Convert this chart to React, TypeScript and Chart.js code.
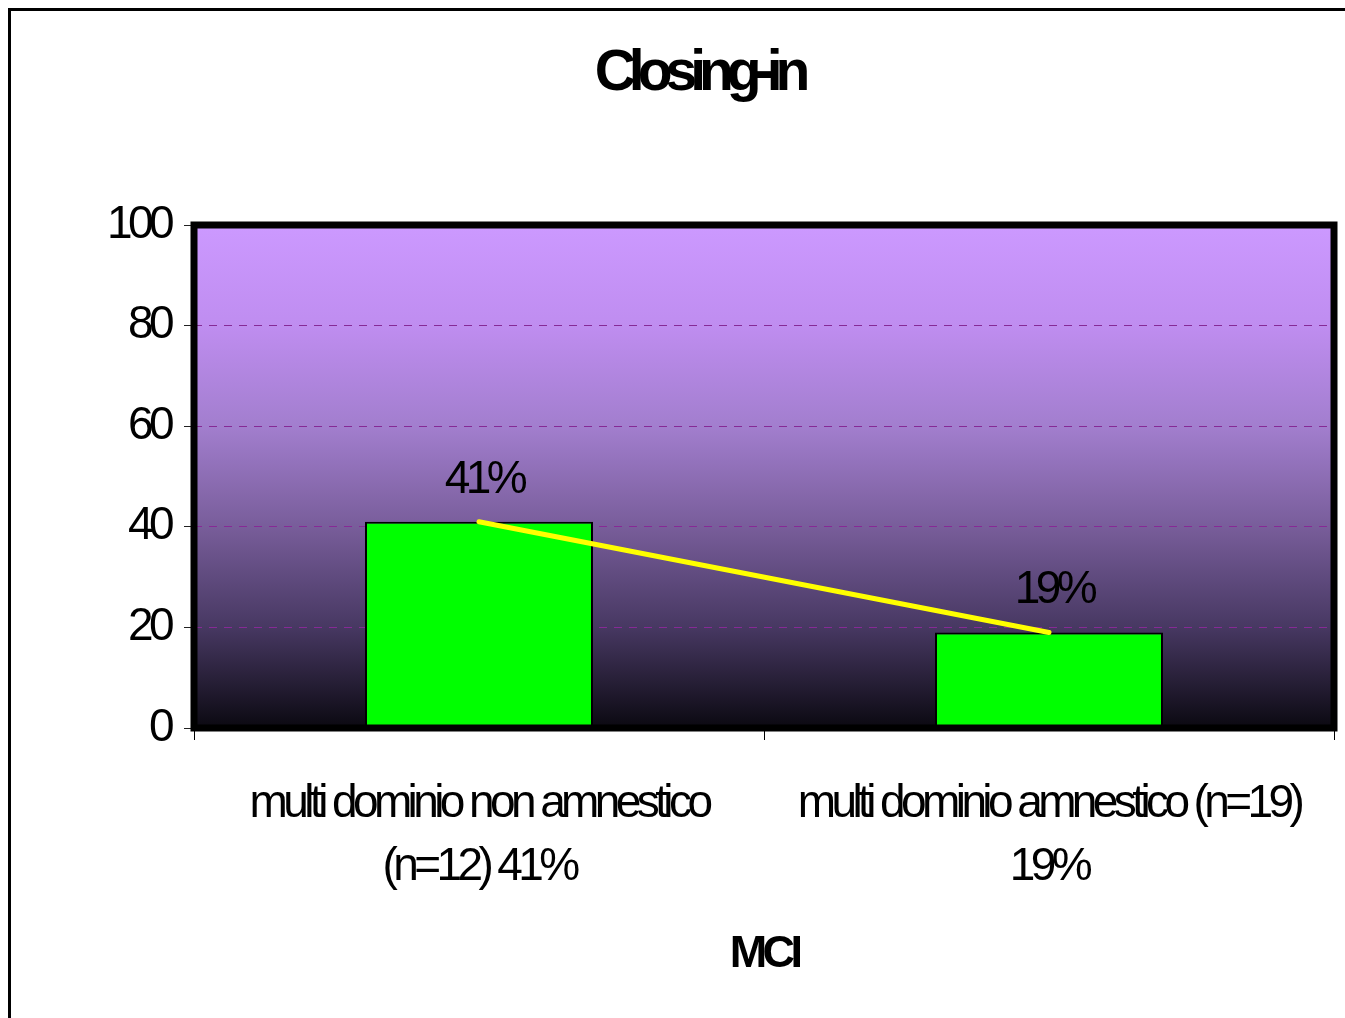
import React, { useEffect, useRef } from "react";
import { Chart, registerables } from "chart.js";

Chart.register(...registerables);

const categories: string[][] = [
  ["multi dominio non amnestico", "(n=12) 41%"],
  ["multi dominio amnestico (n=19)", "19%"],
];
const values: number[] = [41, 19];
const valueLabels: string[] = ["41%", "19%"];
const yTicks: number[] = [0, 20, 40, 60, 80, 100];
const titleText = "Closing-in";
const axisTitle = "MCI";

const FONT = "'Liberation Sans', Arial, Helvetica, sans-serif";
const W = 1345;
const H = 1018;
const SPACING = "-4.6px";

const decorPlugin = {
  id: "decor",
  beforeLayout(chart: any) {
    chart.ctx.letterSpacing = SPACING;
  },
  beforeDraw(chart: any) {
    const ctx = chart.ctx;
    ctx.letterSpacing = SPACING;
    const { left, top, right, bottom } = chart.chartArea;
    ctx.save();
    ctx.strokeStyle = "#000";
    ctx.lineWidth = 3;
    ctx.strokeRect(9.5, 9.5, 3000, 3000);
    const g = ctx.createLinearGradient(0, top, 0, bottom);
    g.addColorStop(0, "#CC99FF");
    g.addColorStop(0.2, "#BF8DF0");
    g.addColorStop(0.4, "#A27ECE");
    g.addColorStop(0.6, "#785D9A");
    g.addColorStop(0.8, "#473862");
    g.addColorStop(1, "#0B0911");
    ctx.fillStyle = g;
    ctx.fillRect(left, top, right - left, bottom - top);
    ctx.restore();
  },
  afterDatasetsDraw(chart: any) {
    const ctx = chart.ctx;
    const { left, top, right, bottom } = chart.chartArea;
    ctx.save();
    ctx.strokeStyle = "#000";
    ctx.lineWidth = 7;
    ctx.strokeRect(left, top, right - left, bottom - top);
    ctx.restore();

    const meta = chart.getDatasetMeta(0);
    ctx.save();
    ctx.letterSpacing = SPACING;
    ctx.font = `46px ${FONT}`;
    ctx.fillStyle = "#000";
    ctx.textAlign = "center";
    ctx.textBaseline = "alphabetic";
    meta.data.forEach((pt: any, i: number) => {
      ctx.fillText(valueLabels[i], pt.x + 5, pt.y - 29);
    });
    ctx.restore();
  },
  afterDraw(chart: any) {
    const ctx = chart.ctx;
    ctx.save();
    ctx.letterSpacing = "-7px";
    ctx.font = `bold 57px ${FONT}`;
    ctx.fillStyle = "#000";
    ctx.textAlign = "center";
    ctx.textBaseline = "alphabetic";
    ctx.fillText(titleText, 699, 90);
    ctx.restore();
  },
};

export default function App() {
  const ref = useRef<HTMLCanvasElement | null>(null);

  useEffect(() => {
    if (!ref.current) return;
    const chart = new Chart(ref.current, {
      type: "bar",
      data: {
        labels: categories,
        datasets: [
          {
            type: "line",
            label: "trend",
            data: values,
            borderColor: "#FFFF00",
            borderWidth: 5,
            borderCapStyle: "round",
            pointRadius: 0,
            fill: false,
            order: 0,
          } as any,
          {
            type: "bar",
            label: "Closing-in",
            data: values,
            backgroundColor: "#00FF00",
            borderColor: "#000000",
            borderWidth: 2,
            barPercentage: 0.4,
            categoryPercentage: 1,
            order: 1,
          } as any,
        ],
      },
      options: {
        responsive: false,
        animation: false,
        events: [],
        layout: { padding: { left: 0, top: 225, right: W - 1334, bottom: 0 } },
        plugins: {
          legend: { display: false },
          title: { display: false },
          tooltip: { enabled: false },
        },
        scales: {
          x: {
            offset: true,
            grid: {
              display: true,
              drawOnChartArea: false,
              drawTicks: true,
              tickLength: 12,
              tickColor: "#000",
              offset: true,
            },
            border: { display: false },
            ticks: {
              color: "#000",
              font: { family: FONT, size: 46, lineHeight: 1.37 },
              padding: 33,
              maxRotation: 0,
              autoSkip: false,
            },
            title: {
              display: true,
              text: axisTitle,
              color: "#000",
              font: { family: FONT, size: 45, weight: "bold" },
              padding: { top: 0, bottom: 36 },
            },
            afterFit(scale: any) {
              scale.height = H - 728;
            },
          },
          y: {
            min: 0,
            max: 100,
            afterBuildTicks(scale: any) {
              scale.ticks = yTicks.map((v) => ({ value: v }));
            },
            grid: {
              color: (c: any) =>
                c.tick && (c.tick.value === 0 || c.tick.value === 100)
                  ? "rgba(0,0,0,0)"
                  : "#862A96",
              lineWidth: 1,
              drawTicks: true,
              tickLength: 10,
              tickColor: "#222",
              tickBorderDash: [],
            },
            border: { display: false, dash: [8, 7] },
            ticks: {
              color: "#000",
              font: { family: FONT, size: 46 },
              padding: 14,
            },
            afterFit(scale: any) {
              scale.width = 194;
            },
          },
        },
      } as any,
      plugins: [decorPlugin],
    });
    return () => chart.destroy();
  }, []);

  return (
    <div style={{ position: "fixed", left: 0, top: 0, width: W, height: H, background: "#fff" }}>
      <canvas ref={ref} width={W} height={H} style={{ display: "block" }} />
    </div>
  );
}
